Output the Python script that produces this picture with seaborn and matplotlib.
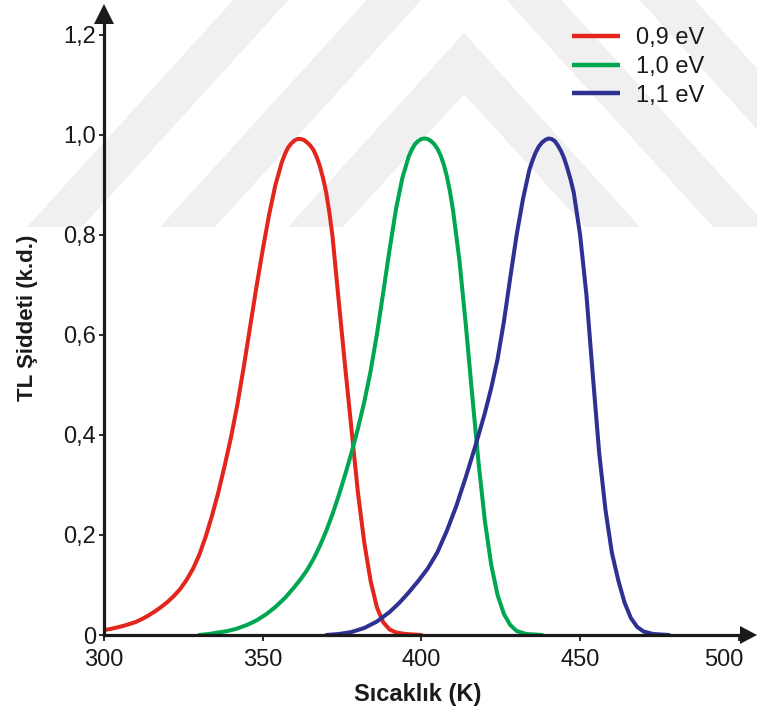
import matplotlib
matplotlib.use("Agg")
import matplotlib.pyplot as plt
import numpy as np
import pandas as pd
import seaborn as sns
from matplotlib.patches import Polygon
from matplotlib.transforms import ScaledTranslation

# Glow curves for three trap depths
series_labels = ["0,9 eV", "1,0 eV", "1,1 eV"]

temp_09 = [300, 302, 304, 306, 308, 310, 312, 314, 316, 318, 320, 322, 324,
           326, 328, 330, 332, 334, 336, 338, 340, 342, 344, 346, 348, 350,
           352, 354, 356, 357, 358, 359, 360, 361, 362, 363, 364, 365, 366,
           367, 368, 369, 370, 371, 372, 374, 376, 378, 380, 382, 384, 386,
           388, 390, 392, 395, 400]
tl_09 = [0.010, 0.012, 0.015, 0.018, 0.022, 0.026, 0.032, 0.039, 0.047, 0.056,
         0.066, 0.078, 0.092, 0.110, 0.132, 0.160, 0.196, 0.238, 0.285, 0.338,
         0.395, 0.460, 0.535, 0.615, 0.695, 0.770, 0.840, 0.900, 0.945, 0.962,
         0.975, 0.983, 0.989, 0.992, 0.992, 0.990, 0.985, 0.979, 0.970, 0.956,
         0.938, 0.914, 0.885, 0.845, 0.797, 0.665, 0.535, 0.410, 0.285, 0.185,
         0.108, 0.055, 0.025, 0.011, 0.005, 0.002, 0.000]

temp_10 = [330, 333, 336, 339, 342, 345, 348, 351, 354, 357, 360, 362, 364,
           366, 368, 370, 372, 374, 376, 378, 380, 382, 384, 386, 388, 390,
           392, 394, 396, 397, 398, 399, 400, 401, 402, 403, 404, 405, 406,
           407, 408, 409, 410, 412, 414, 416, 418, 420, 422, 424, 426, 428,
           430, 433, 438]
tl_10 = [0.000, 0.002, 0.005, 0.008, 0.013, 0.020, 0.029, 0.041, 0.056, 0.074,
         0.096, 0.112, 0.130, 0.152, 0.178, 0.208, 0.242, 0.280, 0.321, 0.365,
         0.413, 0.466, 0.528, 0.602, 0.686, 0.772, 0.852, 0.914, 0.957, 0.971,
         0.982, 0.988, 0.992, 0.993, 0.992, 0.988, 0.982, 0.973, 0.960, 0.942,
         0.918, 0.887, 0.848, 0.748, 0.620, 0.480, 0.345, 0.228, 0.140, 0.080,
         0.042, 0.020, 0.008, 0.002, 0.000]

temp_11 = [370, 374, 378, 382, 386, 390, 393, 396, 399, 402, 405, 408, 411,
           414, 417, 420, 422, 424, 426, 428, 430, 432, 434, 435, 436, 437,
           438, 439, 440, 441, 442, 443, 444, 445, 446, 447, 448, 450, 452,
           454, 456, 458, 460, 462, 464, 466, 468, 470, 473, 478]
tl_11 = [0.000, 0.002, 0.006, 0.014, 0.027, 0.046, 0.064, 0.085, 0.108, 0.133,
         0.165, 0.208, 0.258, 0.316, 0.378, 0.444, 0.494, 0.552, 0.627, 0.715,
         0.800, 0.872, 0.930, 0.949, 0.965, 0.977, 0.985, 0.990, 0.993, 0.992,
         0.988, 0.979, 0.968, 0.953, 0.933, 0.911, 0.885, 0.800, 0.680, 0.520,
         0.365, 0.250, 0.165, 0.110, 0.065, 0.034, 0.016, 0.007, 0.002, 0.000]

x_ticks = [300, 350, 400, 450, 500]
x_tick_labels = ["300", "350", "400", "450", "500"]
y_ticks = [0, 0.2, 0.4, 0.6, 0.8, 1.0, 1.2]
y_tick_labels = ["0", "0,2", "0,4", "0,6", "0,8", "1,0", "1,2"]

colors = ["#e3261c", "#00a651", "#2e3192"]

df = pd.concat(
    [pd.DataFrame({"T": t, "I": v, "E": lab})
     for t, v, lab in zip([temp_09, temp_10, temp_11],
                          [tl_09, tl_10, tl_11], series_labels)],
    ignore_index=True)

sns.set_style("ticks")
plt.rcParams["font.family"] = ["Liberation Sans", "DejaVu Sans"]

W, H = 757, 711
fig = plt.figure(figsize=(W / 100, H / 100), dpi=100)
fig.patch.set_facecolor("white")


def fx(x):
    return x / W


def fy(y):
    return 1 - y / H


# light background chevrons
band = "#f0f0f0"
chevrons = [
    [(288, 227), (464, 33), (640, 227), (585, 227), (464, 94), (343, 227)],
    [(160, 227), (464, -107), (768, 227), (713, 227), (464, -47), (215, 227)],
    [(27, 227), (464, -254), (901, 227), (846, 227), (464, -193), (82, 227)],
]
for poly in chevrons:
    fig.add_artist(Polygon([(fx(a), fy(b)) for a, b in poly], closed=True,
                           facecolor=band, edgecolor="none",
                           transform=fig.transFigure, zorder=-1))

ax = fig.add_axes([fx(104), fy(635), (W - 104) / W, 630 / H])
ax.set_facecolor("none")

sns.lineplot(data=df, x="T", y="I", hue="E", palette=colors,
             estimator=None, sort=True, linewidth=2.9,
             solid_joinstyle="round", solid_capstyle="round", ax=ax)

px_per_k = 158.7 / 50
ax.set_xlim(300, 300 + (W - 104) / px_per_k)
ax.set_ylim(0, 630 / 500)

for side in ["top", "right"]:
    ax.spines[side].set_visible(False)
for side in ["left", "bottom"]:
    ax.spines[side].set_linewidth(2.3)
    ax.spines[side].set_color("#1a1a1a")
ax.spines["left"].set_bounds(0, 1.23)
ax.spines["bottom"].set_bounds(300, 502)

ax.set_xticks(x_ticks)
ax.set_xticklabels(x_tick_labels)
ax.set_yticks(y_ticks)
ax.set_yticklabels(y_tick_labels)
ax.tick_params(axis="both", direction="out", colors="#1a1a1a",
               labelcolor="#1a1a1a", labelsize=17, width=1.3)
ax.tick_params(axis="x", length=4, pad=6)
ax.tick_params(axis="y", length=3.5, pad=2)
lbls = ax.get_xticklabels()
lbls[-1].set_transform(lbls[-1].get_transform() +
                       ScaledTranslation(-15 / 100, 0, fig.dpi_scale_trans))
ax.set_xlabel("")
ax.set_ylabel("")

# arrow heads on the axes
fig.add_artist(Polygon([(fx(104), fy(4)), (fx(94), fy(24)), (fx(114), fy(24))],
                       closed=True, facecolor="#1a1a1a", edgecolor="none",
                       transform=fig.transFigure))
fig.add_artist(Polygon([(fx(757), fy(635)), (fx(740), fy(626)), (fx(740), fy(644))],
                       closed=True, facecolor="#1a1a1a", edgecolor="none",
                       transform=fig.transFigure))

fig.text(fx(418), fy(694), "Sıcaklık (K)", ha="center", va="center",
         fontsize=17, fontweight="bold", color="#1a1a1a")
fig.text(fx(28), fy(318), "TL Şiddeti (k.d.)", ha="center", va="center",
         rotation=90, fontsize=16, fontweight="bold", color="#1a1a1a")

handles, labels = ax.get_legend_handles_labels()
ax.legend(handles, labels, loc="upper left",
          bbox_to_anchor=(fx(572), fy(27)), bbox_transform=fig.transFigure,
          frameon=False, fontsize=17, handlelength=2.05, handletextpad=0.68,
          labelspacing=0.29, borderpad=0, borderaxespad=0,
          labelcolor="#1a1a1a")
for line in ax.get_legend().get_lines():
    line.set_linewidth(3.2)
    line.set_solid_capstyle("butt")

fig.savefig("out.png", dpi=100)
